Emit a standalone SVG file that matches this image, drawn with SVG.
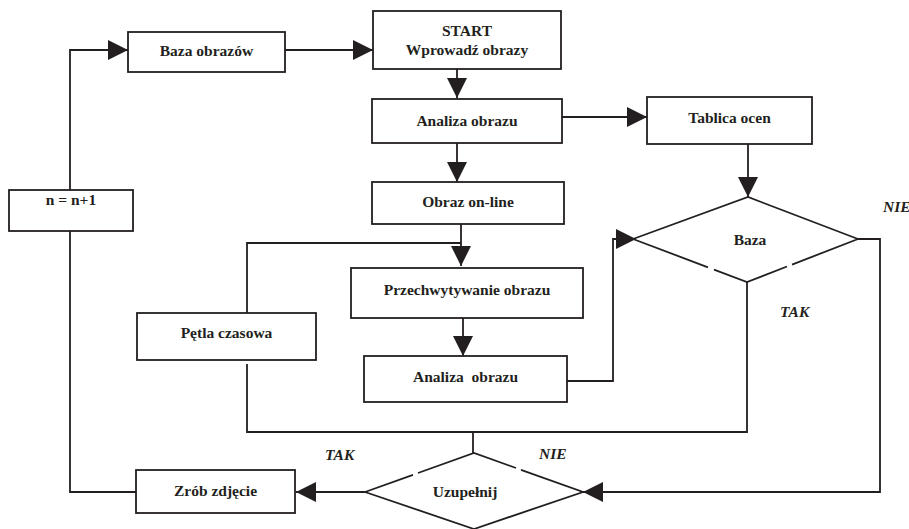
<svg xmlns="http://www.w3.org/2000/svg" width="909" height="529" viewBox="0 0 909 529">
<style>
.box{fill:#fff;stroke:#231f20;stroke-width:1.8}
.ln{fill:none;stroke:#231f20;stroke-width:1.8}
.t{font-family:"Liberation Serif","Times New Roman",serif;font-weight:bold;font-size:15.5px;fill:#231f20;text-anchor:middle}
.lbl{font-family:"Liberation Serif","Times New Roman",serif;font-weight:bold;font-style:italic;font-size:15.5px;fill:#231f20}
</style>
<defs>
<marker id="ah" markerUnits="userSpaceOnUse" markerWidth="21" markerHeight="21" refX="20" refY="10" orient="auto" viewBox="0 0 21 21">
<path d="M0,0 L20,10 L0,20 Z" fill="#231f20"/>
</marker>
</defs>
<rect width="909" height="529" fill="#fff"/>
<g id="connectors">
<path class="ln" d="M70,190 V50 H128" marker-end="url(#ah)"/>
<path class="ln" d="M285,50 H373" marker-end="url(#ah)"/>
<path class="ln" d="M457,69 V98" marker-end="url(#ah)"/>
<path class="ln" d="M457,143 V182" marker-end="url(#ah)"/>
<path class="ln" d="M562,117 H647" marker-end="url(#ah)"/>
<path class="ln" d="M748,144 V197" marker-end="url(#ah)"/>
<path class="ln" d="M461,224 V266" marker-end="url(#ah)"/>
<path class="ln" d="M247,313 V243 H461"/>
<path class="ln" d="M463,318 V356" marker-end="url(#ah)"/>
<path class="ln" d="M567,381 H613 V239 H636" marker-end="url(#ah)"/>
<path class="ln" d="M747,282 V432 H247 V364"/>
<path class="ln" d="M473,432 V453"/>
<path class="ln" d="M858,239 H880 V492 H583" marker-end="url(#ah)"/>
<path class="ln" d="M365,492 H296" marker-end="url(#ah)"/>
<path class="ln" d="M136,492 H70 V231"/>
</g>
<g id="n-baza-obrazow">
<rect class="box" x="128" y="32" width="157" height="40"/>
<text class="t" x="206.5" y="56">Baza obrazów</text>
</g>
<g id="n-start">
<rect class="box" x="373" y="11" width="188" height="58"/>
<text class="t" x="467" y="36">START</text>
<text class="t" x="467" y="55">Wprowadź obrazy</text>
</g>
<g id="n-analiza1">
<rect class="box" x="372" y="99" width="190" height="44"/>
<text class="t" x="467" y="126">Analiza obrazu</text>
</g>
<g id="n-tablica">
<rect class="box" x="647" y="97" width="165" height="47"/>
<text class="t" x="729.5" y="123">Tablica ocen</text>
</g>
<g id="n-obraz-online">
<rect class="box" x="372" y="182" width="192" height="42"/>
<text class="t" x="468" y="207">Obraz on-line</text>
</g>
<g id="n-przechwytywanie">
<rect class="box" x="351" y="268" width="232" height="50"/>
<text class="t" x="467" y="295">Przechwytywanie obrazu</text>
</g>
<g id="n-analiza2">
<rect class="box" x="364" y="356" width="203" height="46"/>
<text class="t" x="465.5" y="382" xml:space="preserve">Analiza  obrazu</text>
</g>
<g id="n-petla">
<rect class="box" x="137" y="313" width="179" height="47"/>
<text class="t" x="226.5" y="338">Pętla czasowa</text>
</g>
<g id="n-n">
<rect class="box" x="9" y="190" width="124" height="41"/>
<text class="t" x="71" y="205">n = n+1</text>
</g>
<g id="n-zrob">
<rect class="box" x="136" y="470" width="159" height="43"/>
<text class="t" x="215.5" y="496">Zrób zdjęcie</text>
</g>
<g id="n-baza">
<path class="ln" d="M633,239 L748,197 L858,239 M858,239 L792,264.6 M787,266.5 L747,282 L714,269.6 M708,267.3 L633,239"/>
<text class="t" x="750" y="245">Baza</text>
</g>
<g id="n-uzupelnij">
<path class="ln" d="M365,492 L413,474.8 M418,473 L474,453 L516,468 M521,469.8 L583,492 L474,529 L365,492"/>
<text class="t" x="465" y="497">Uzupełnij</text>
</g>
<g id="labels">
<text class="lbl" x="883" y="212">NIE</text>
<text class="lbl" x="780" y="317">TAK</text>
<text class="lbl" x="325" y="460">TAK</text>
<text class="lbl" x="539" y="459">NIE</text>
</g>
</svg>
